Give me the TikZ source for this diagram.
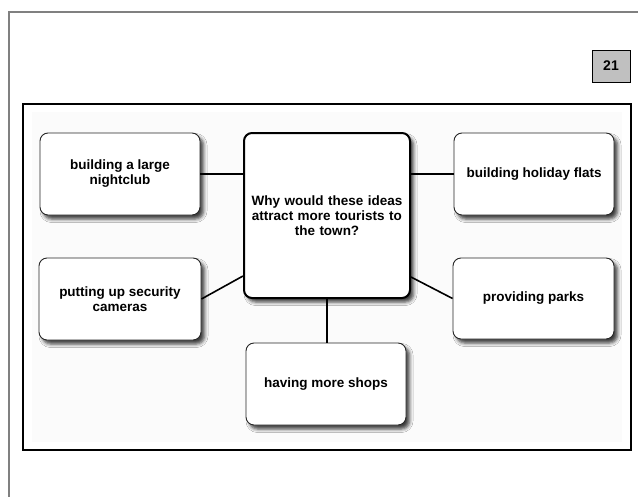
\documentclass[tikz,border=0pt]{standalone}
\usepackage{fontspec}
\setmainfont{Liberation Sans}
\usetikzlibrary{shadows.blur}
\definecolor{framegray}{HTML}{808080}
\definecolor{paneltint}{HTML}{FBFBFB}
\definecolor{numfill}{HTML}{C0C0C0}
\tikzset{
  ideabox/.style={draw=black!85, line width=0.9pt, rounded corners=8pt, fill=white,
    minimum width=160pt, minimum height=82pt, align=center, inner sep=4pt,
    font=\fontsize{13.5}{15}\selectfont\bfseries,
    blur shadow={shadow xshift=3.5pt, shadow yshift=-4pt, shadow blur radius=3.5pt, shadow opacity=75}},
  hubbox/.style={ideabox, draw=black, line width=2pt},
  link/.style={draw=black, line width=1.6pt},
}
\begin{document}
\begin{tikzpicture}[x=1pt,y=-1pt]
\useasboundingbox (0,0) rectangle (638,496);
\fill[white] (0,0) rectangle (638,496);
% outer frame (top and left visible)
\draw[framegray, line width=2.4pt] (9,500) -- (9,12) -- (642,12);
% number box
\node[draw=black, line width=1pt, fill=numfill, minimum width=38pt, minimum height=32pt,
      font=\fontsize{14}{15}\selectfont\bfseries] (num) at (611,66) {21};
% panel
\fill[paneltint] (32,112) rectangle (622,442);
\draw[black, line width=1.3pt] (23,104) rectangle (631,450);
% boxes
\node[hubbox, minimum width=166pt, minimum height=165pt, text width=152pt] (hub) at (327,215.5)
  {Why would these ideas\\attract more tourists to\\the town?};
\node[ideabox] (club) at (120,174) {building a large\\nightclub};
\node[ideabox] (flats) at (534,174) {building holiday flats};
\node[ideabox, minimum width=162pt] (cams) at (120,299) {putting up security\\cameras};
\node[ideabox, minimum width=161pt, minimum height=81pt] (parks) at (533.5,298.5) {providing parks};
\node[ideabox] (shops) at (326,384) {having more shops};
% connectors
\draw[link] (club.east) -- (club.east -| hub.west);
\draw[link] (hub.east |- flats.west) -- (flats.west);
\draw[link] (cams.east) -- ([yshift=-60.5pt]hub.west);
\draw[link] ([yshift=-61.5pt]hub.east) -- (parks.west);
\draw[link] (hub.south) -- (hub.south |- shops.north);
\end{tikzpicture}
\end{document}
